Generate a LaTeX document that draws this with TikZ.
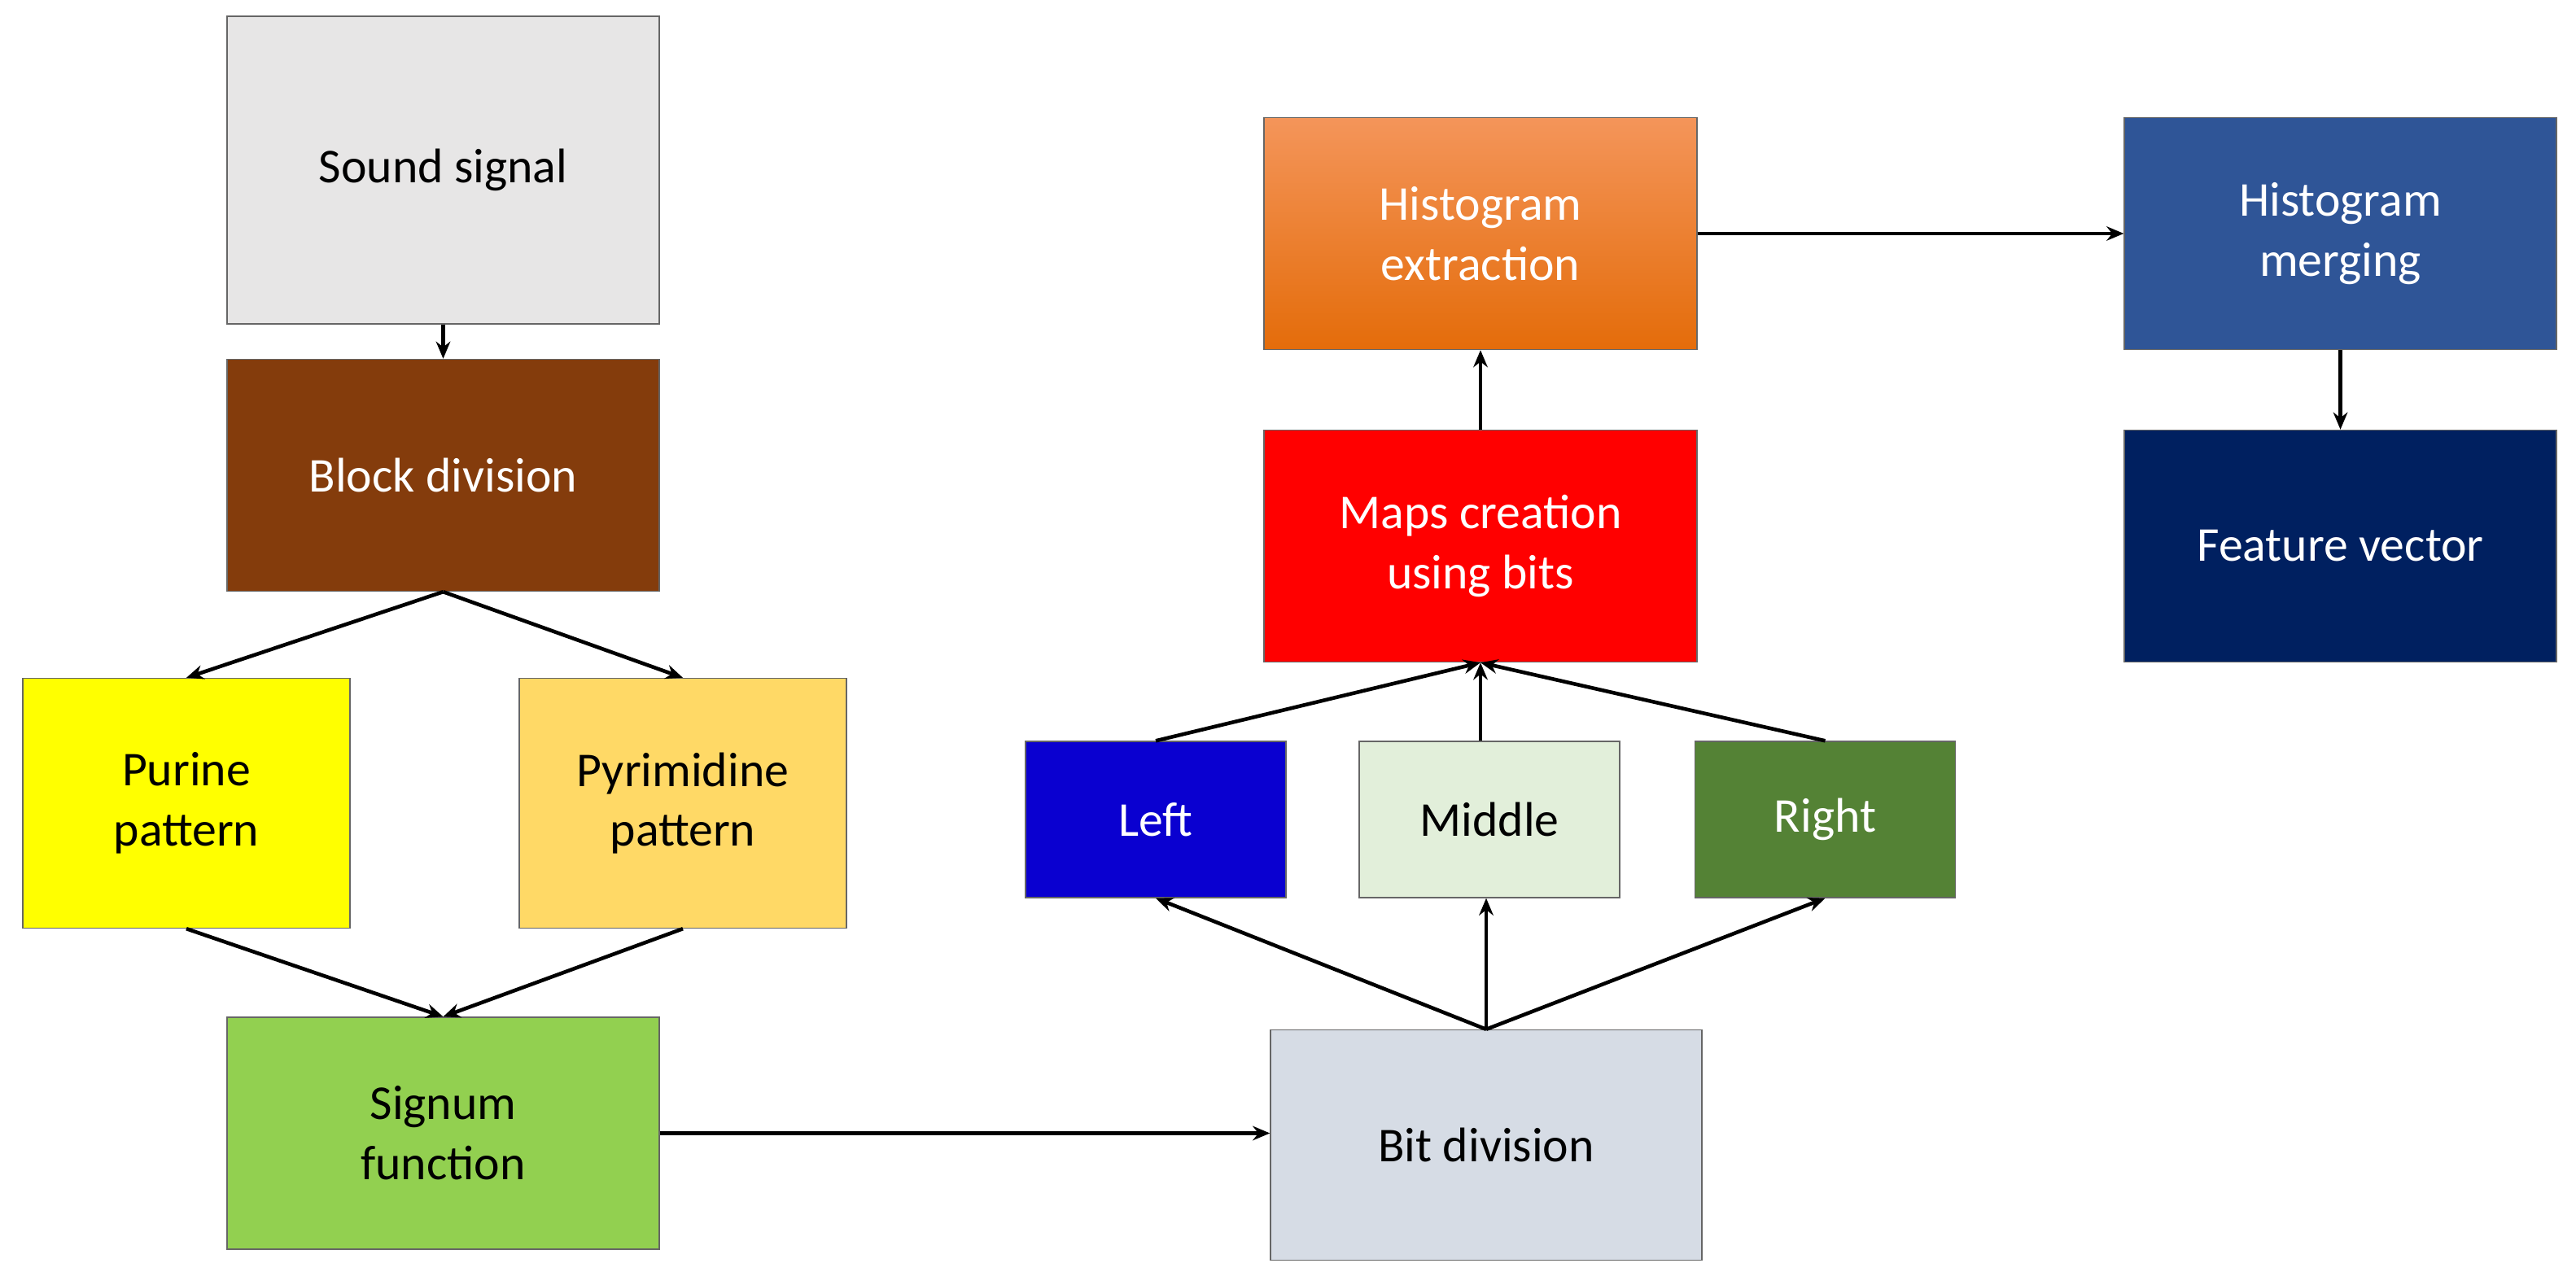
\documentclass[tikz,border=0pt]{standalone}
\usepackage{fontspec}
\setmainfont{Carlito}
\usepackage{xcolor}
\usetikzlibrary{arrows.meta, positioning}
\definecolor{soundgray}{HTML}{E7E6E6}
\definecolor{blockbrown}{HTML}{843C0C}
\definecolor{purineyel}{HTML}{FFFF00}
\definecolor{pyrigold}{HTML}{FFD966}
\definecolor{signumgreen}{HTML}{92D050}
\definecolor{bitgray}{HTML}{D6DCE5}
\definecolor{leftblue}{HTML}{0A00D0}
\definecolor{middlegreen}{HTML}{E2EFDA}
\definecolor{rightgreen}{HTML}{548235}
\definecolor{mapsred}{HTML}{FF0000}
\definecolor{histtop}{HTML}{F4955A}
\definecolor{histbot}{HTML}{E46C0A}
\definecolor{mergeblue}{HTML}{2F5597}
\definecolor{featnavy}{HTML}{002060}

\begin{document}
\begin{tikzpicture}[
  step/.style={
    rectangle,
    draw=black!60,
    fill=#1,
    minimum width=5.31cm,
    minimum height=2.85cm,
    font=\fontsize{17}{21}\selectfont,
    align=center,
    inner sep=0pt
  },
  small/.style={
    step=#1,
    minimum width=3.2cm,
    minimum height=1.92cm
  },
  connection/.style={
    -{Stealth[length=6pt,width=5pt]},
    line width=1.3pt,
    draw=black
  }
]
\useasboundingbox (0,0) rectangle (31.65,15.78);

% Left column
\node[step=soundgray, minimum height=3.78cm] (sound) at (5.445,13.69) {Sound signal};
\node[step=blockbrown, text=white] (block) at (5.445,9.94) {Block division};
\node[step=purineyel, minimum width=4.02cm, minimum height=3.07cm] (purine) at (2.29,5.91) {Purine\\pattern};
\node[step=pyrigold, minimum width=4.02cm, minimum height=3.07cm] (pyri) at (8.39,5.91) {Pyrimidine\\pattern};
\node[step=signumgreen] (signum) at (5.445,1.855) {Signum\\function};

% Middle part
\node[step=bitgray, minimum width=5.3cm, minimum height=2.83cm] (bit) at (18.26,1.71) {Bit division};
\node[small=leftblue, text=white] (left) at (14.2,5.71) {Left};
\node[small=middlegreen] (middle) at (18.3,5.71) {Middle};
\node[small=rightgreen, text=white] (right) at (22.425,5.71) {Right};
\node[step=mapsred, text=white, minimum width=5.32cm] (maps) at (18.19,9.07) {Maps creation\\using bits};
\node[step=histbot, top color=histtop, bottom color=histbot, text=white, minimum width=5.32cm] (hist) at (18.19,12.91) {Histogram\\extraction};

% Right part
\node[step=mergeblue, text=white] (merge) at (28.755,12.91) {Histogram\\merging};
\node[step=featnavy, text=white] (feature) at (28.755,9.07) {Feature vector};

% Arrows
\draw[connection] (sound) -- (block);
\draw[connection] (block.south) -- (purine.north);
\draw[connection] (block.south) -- (pyri.north);
\draw[connection] (purine.south) -- (signum.north);
\draw[connection] (pyri.south) -- (signum.north);
\draw[connection] (signum.east) -- (bit.west |- signum.east);
\draw[connection] (bit.north) -- (left.south);
\draw[connection] (bit.north) -- (middle.south -| bit.north);
\draw[connection] (bit.north) -- (right.south);
\draw[connection] (left.north) -- (maps.south);
\draw[connection] (middle.north -| maps.south) -- (maps.south);
\draw[connection] (right.north) -- (maps.south);
\draw[connection] (maps) -- (hist);
\draw[connection] (hist.east) -- (merge.west);
\draw[connection] (merge) -- (feature);

\end{tikzpicture}
\end{document}
